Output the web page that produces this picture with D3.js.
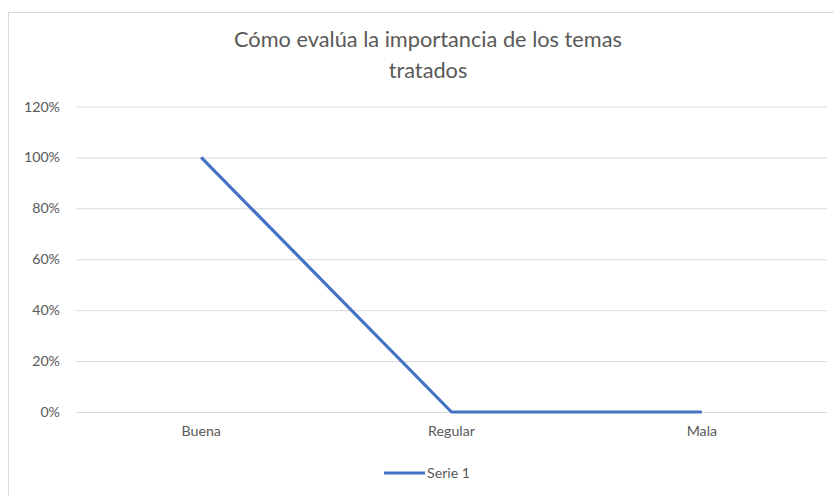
<!DOCTYPE html>
<html>
<head>
<meta charset="utf-8">
<script src="https://cdn.jsdelivr.net/npm/d3@7"></script>
<style>
  html, body { margin: 0; padding: 0; background: #fff; }
  svg { display: block; }
  text { font-family: Lato, "Open Sans", sans-serif; }
</style>
</head>
<body>
<svg id="chart" width="834" height="496"></svg>
<script>
const titleLines = ["Cómo evalúa la importancia de los temas", "tratados"];
const categories = ["Buena", "Regular", "Mala"];
const seriesName = "Serie 1";
const seriesValues = [1.0, 0.0, 0.0];
const yTicks = [0, 0.2, 0.4, 0.6, 0.8, 1.0, 1.2];

const svg = d3.select("#chart");
const grey = "#595959";
const lineColor = "#4472C4";
const labelSize = "14.2px";

// chart frame
svg.append("rect")
  .attr("x", 8.5).attr("y", 12.5)
  .attr("width", 840).attr("height", 500)
  .attr("fill", "#fff").attr("stroke", "#d9d9d9").attr("stroke-width", 1);

const plot = { left: 76, right: 827, top: 106.5, bottom: 412 };

const x = d3.scaleBand().domain(categories).range([plot.left, plot.right]).padding(0);
const y = d3.scaleLinear().domain([0, 1.2]).range([plot.bottom, plot.top]);

// title
const title = svg.append("g");
titleLines.forEach((t, i) => {
  title.append("text")
    .attr("x", 428).attr("y", 47 + i * 31)
    .attr("text-anchor", "middle")
    .attr("fill", grey)
    .style("font-size", "18.5px")
    .text(t);
});
const t0 = title.select("text").node();
const w0 = t0.getComputedTextLength();
const fs = 18.5 * 388 / w0;
title.selectAll("text").style("font-size", fs + "px");

// gridlines + y axis
const yAxis = d3.axisLeft(y)
  .tickValues(yTicks)
  .tickSize(-(plot.right - plot.left))
  .tickPadding(16)
  .tickFormat(d3.format(".0%"));
const gy = svg.append("g").attr("transform", `translate(${plot.left},0)`).call(yAxis);
gy.select(".domain").remove();
gy.selectAll(".tick line").attr("stroke", "#d9d9d9").attr("stroke-width", 1);
gy.selectAll(".tick text").attr("fill", grey).style("font-size", labelSize)
  .style("font-family", "Lato, 'Open Sans', sans-serif");

// x axis labels
const xAxis = d3.axisBottom(x).tickSize(0).tickPadding(14);
const gx = svg.append("g").attr("transform", `translate(0,${plot.bottom})`).call(xAxis);
gx.select(".domain").remove();
gx.selectAll(".tick text").attr("fill", grey).style("font-size", labelSize)
  .style("font-family", "Lato, 'Open Sans', sans-serif");

// line
const line = d3.line()
  .x((d, i) => x(categories[i]) + x.bandwidth() / 2)
  .y(d => y(d));
svg.append("path")
  .datum(seriesValues)
  .attr("d", line)
  .attr("fill", "none")
  .attr("stroke", lineColor)
  .attr("stroke-width", 3.2)
  .attr("stroke-linejoin", "round");

// legend
const lg = svg.append("g").attr("transform", "translate(384,473)");
lg.append("line").attr("x1", 0).attr("x2", 41).attr("y1", 0).attr("y2", 0)
  .attr("stroke", lineColor).attr("stroke-width", 3.2);
lg.append("text").attr("x", 43).attr("y", 0).attr("dy", "0.35em")
  .attr("fill", grey).style("font-size", labelSize).text(seriesName);
</script>
</body>
</html>
